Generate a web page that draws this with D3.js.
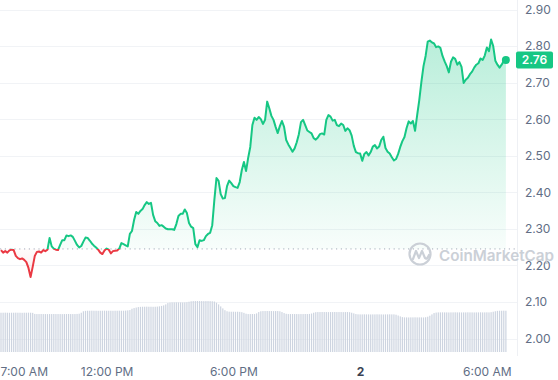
<!DOCTYPE html>
<html>
<head>
<meta charset="utf-8">
<script src="https://cdn.jsdelivr.net/npm/d3@7"></script>
<style>
  body { margin: 0; background: #fff; }
  svg { display: block; font-family: Inter, "Noto Sans", sans-serif; }
</style>
</head>
<body>
<svg id="chart" width="558" height="380"></svg>
<script>
// price every 6 minutes, from 7:00 AM on day 1
const price = [
  2.242, 2.235, 2.239, 2.235, 2.241, 2.243, 2.242, 2.226, 2.220, 2.217,
  2.219, 2.215, 2.209, 2.193, 2.168, 2.196, 2.226, 2.237, 2.238, 2.235,
  2.242, 2.239, 2.243, 2.275, 2.252, 2.246, 2.243, 2.242, 2.256, 2.269,
  2.269, 2.282, 2.280, 2.282, 2.278, 2.267, 2.256, 2.249, 2.253, 2.265,
  2.276, 2.275, 2.268, 2.260, 2.254, 2.249, 2.243, 2.235, 2.231, 2.241,
  2.246, 2.243, 2.233, 2.239, 2.240, 2.241, 2.246, 2.261, 2.258, 2.255,
  2.252, 2.286, 2.294, 2.324, 2.346, 2.341, 2.349, 2.354, 2.365, 2.373,
  2.368, 2.371, 2.338, 2.321, 2.316, 2.308, 2.310, 2.306, 2.301, 2.299,
  2.299, 2.299, 2.297, 2.313, 2.335, 2.341, 2.341, 2.353, 2.343, 2.316,
  2.306, 2.302, 2.258, 2.250, 2.269, 2.267, 2.269, 2.280, 2.286, 2.289,
  2.310, 2.379, 2.439, 2.431, 2.395, 2.383, 2.384, 2.417, 2.432, 2.425,
  2.417, 2.414, 2.412, 2.428, 2.461, 2.483, 2.458, 2.494, 2.524, 2.584,
  2.604, 2.598, 2.606, 2.600, 2.587, 2.598, 2.648, 2.630, 2.609, 2.598,
  2.579, 2.562, 2.581, 2.595, 2.579, 2.543, 2.531, 2.521, 2.511, 2.520,
  2.537, 2.559, 2.592, 2.598, 2.584, 2.569, 2.565, 2.561, 2.548, 2.544,
  2.550, 2.559, 2.561, 2.558, 2.598, 2.611, 2.607, 2.596, 2.598, 2.584,
  2.581, 2.588, 2.584, 2.568, 2.575, 2.570, 2.555, 2.527, 2.510, 2.507,
  2.506, 2.486, 2.505, 2.510, 2.501, 2.510, 2.525, 2.529, 2.520, 2.525,
  2.543, 2.552, 2.521, 2.511, 2.506, 2.496, 2.487, 2.491, 2.505, 2.524,
  2.540, 2.551, 2.576, 2.594, 2.588, 2.595, 2.568, 2.611, 2.652, 2.702,
  2.745, 2.773, 2.812, 2.815, 2.810, 2.807, 2.797, 2.799, 2.795, 2.773,
  2.758, 2.745, 2.728, 2.757, 2.769, 2.765, 2.749, 2.756, 2.743, 2.699,
  2.708, 2.713, 2.723, 2.730, 2.741, 2.749, 2.753, 2.766, 2.762, 2.774,
  2.796, 2.786, 2.818, 2.800, 2.760, 2.749, 2.741, 2.749, 2.760, 2.762
];

// volume (millions), same 6 minute steps
const volume = [
  590, 590, 591, 590, 589, 590, 590, 591, 590, 590, 589, 590, 590, 591, 590, 588,
  572, 570, 570, 571, 570, 570, 569, 570, 570, 571, 570, 570, 570, 569, 570, 570,
  571, 570, 570, 570, 572, 575, 590,
  612, 618, 620, 620, 621, 620, 620, 619, 620, 620, 621, 620, 620, 620, 619, 620,
  620, 621, 620, 620, 622, 625, 630,
  650, 660, 668, 675, 678, 680, 680, 681, 680, 680, 679, 680, 682, 686, 692, 700, 715,
  735, 742, 745, 745, 746, 745, 745, 744, 745, 748, 755,
  762, 765, 765, 766, 765, 765, 764, 765, 765, 764, 762, 758,
  740, 715, 685, 655, 628,
  612, 606, 605, 605, 604, 605, 603, 598, 588,
  575, 570, 570, 571, 570, 580,
  600, 612, 615, 615, 616, 615, 615, 614, 615, 615, 612, 600, 585,
  574, 570, 570, 571, 570, 570, 569, 570, 570, 571, 570, 572, 578, 590,
  598, 600, 600, 601, 600, 600, 599, 600, 600, 601, 600, 600, 600, 599, 600, 600,
  598, 590, 580, 570,
  566, 565, 565, 566, 565, 565, 564, 565, 565, 566, 565, 565, 564, 565, 565, 566,
  565, 565, 560, 548, 535,
  524, 520, 520, 519, 520, 520, 521, 520, 520, 520, 519, 522, 530, 545, 565,
  585, 592, 595, 595, 596, 595, 595, 594, 595, 595, 596, 595, 595, 594, 595, 595,
  596, 595, 595, 594, 595, 595, 596, 595, 595, 596, 595, 598, 605, 612,
  618, 620, 620, 621, 620
];

const yTicks = [2.00, 2.10, 2.20, 2.30, 2.40, 2.50, 2.60, 2.70, 2.80, 2.90];
const xTickLabels = ["7:00 AM", "12:00 PM", "6:00 PM", "2", "6:00 AM"];
const xTickOffsetsH = [0, 5, 11, 17, 23];   // hours after start

const startTime = new Date(2024, 2, 1, 7, 0);
const stepMinutes = 6;
const openPrice = 2.245;
const lastPriceLabel = "2.76";

const green = "#16c784", red = "#ea3943";
const plotRight = 517, plotBottom = 352;

const svg = d3.select("#chart");

const x = d3.scaleTime()
    .domain([startTime, d3.timeHour.offset(startTime, 24)])
    .range([1, 508]);
const y = d3.scaleLinear().domain([2.0, 2.9]).range([338.5, 9.5]);
const yVol = d3.scaleLinear().domain([0, d3.max(volume)]).range([plotBottom, 301]);

const data = price.map((p, i) => ({
    t: d3.timeMinute.offset(startTime, i * stepMinutes),
    p: p,
    v: volume[i]
}));

const defs = svg.append("defs");
const baseY = y(openPrice);

defs.append("clipPath").attr("id", "clip-up")
  .append("rect").attr("x", 0).attr("y", 0).attr("width", plotRight).attr("height", baseY);
defs.append("clipPath").attr("id", "clip-down")
  .append("rect").attr("x", 0).attr("y", baseY).attr("width", plotRight).attr("height", plotBottom - baseY);

const gUp = defs.append("linearGradient").attr("id", "grad-up")
    .attr("gradientUnits", "userSpaceOnUse")
    .attr("x1", 0).attr("x2", 0).attr("y1", 40).attr("y2", baseY);
gUp.append("stop").attr("offset", 0).attr("stop-color", green).attr("stop-opacity", 0.3);
gUp.append("stop").attr("offset", 1).attr("stop-color", green).attr("stop-opacity", 0.03);

const gDown = defs.append("linearGradient").attr("id", "grad-down")
    .attr("gradientUnits", "userSpaceOnUse")
    .attr("x1", 0).attr("x2", 0).attr("y1", baseY).attr("y2", 285);
gDown.append("stop").attr("offset", 0).attr("stop-color", red).attr("stop-opacity", 0.02);
gDown.append("stop").attr("offset", 1).attr("stop-color", red).attr("stop-opacity", 0.12);

// grid
svg.append("g").selectAll("line")
  .data(yTicks)
  .join("line")
    .attr("x1", 0).attr("x2", plotRight)
    .attr("y1", d => Math.round(y(d)) + 0.5).attr("y2", d => Math.round(y(d)) + 0.5)
    .attr("stroke", "#f1f3f6");

svg.append("line")
    .attr("x1", plotRight + 0.5).attr("x2", plotRight + 0.5)
    .attr("y1", 0).attr("y2", plotBottom + 4)
    .attr("stroke", "#eef0f4");

// volume bars
svg.append("g").selectAll("rect")
  .data(data)
  .join("rect")
    .attr("x", d => x(d.t) - 0.6)
    .attr("width", 1.2)
    .attr("y", d => yVol(d.v))
    .attr("height", d => plotBottom - yVol(d.v))
    .attr("fill", "#cdd4e0");

// open price dotted line
svg.append("line")
    .attr("x1", 0).attr("x2", plotRight)
    .attr("y1", baseY).attr("y2", baseY)
    .attr("stroke", "#a6acba")
    .attr("stroke-width", 1)
    .attr("stroke-dasharray", "1.2 3.6");

const area = d3.area()
    .x(d => x(d.t))
    .y0(baseY)
    .y1(d => y(d.p));
const line = d3.line()
    .x(d => x(d.t))
    .y(d => y(d.p));

svg.append("path").datum(data)
    .attr("d", area).attr("fill", "url(#grad-up)").attr("clip-path", "url(#clip-up)");
svg.append("path").datum(data)
    .attr("d", area).attr("fill", "url(#grad-down)").attr("clip-path", "url(#clip-down)");

svg.append("path").datum(data)
    .attr("d", line).attr("fill", "none").attr("stroke", green)
    .attr("stroke-width", 2).attr("stroke-linejoin", "round")
    .attr("clip-path", "url(#clip-up)");
svg.append("path").datum(data)
    .attr("d", line).attr("fill", "none").attr("stroke", red)
    .attr("stroke-width", 2).attr("stroke-linejoin", "round")
    .attr("clip-path", "url(#clip-down)");

const last = data[data.length - 1];
svg.append("circle")
    .attr("cx", x(last.t)).attr("cy", y(last.p)).attr("r", 4)
    .attr("fill", green);

// y axis labels
const yAxis = svg.append("g")
    .attr("transform", `translate(${plotRight + 8},0)`)
    .call(d3.axisRight(y).tickValues(yTicks).tickSize(0).tickPadding(0).tickFormat(d3.format(".2f")));
yAxis.select(".domain").remove();
yAxis.selectAll("text")
    .attr("fill", "#616e85")
    .attr("font-size", 12)
    .attr("font-family", "Inter, sans-serif");

// last price badge
const by = y(last.p);
svg.append("rect")
    .attr("x", plotRight - 1).attr("y", by - 8.5)
    .attr("width", 37).attr("height", 17).attr("rx", 2)
    .attr("fill", green);
svg.append("text")
    .attr("x", plotRight + 17.5).attr("y", by + 4.3)
    .attr("text-anchor", "middle")
    .attr("fill", "#fff")
    .attr("font-size", 12)
    .attr("font-weight", 600)
    .text(lastPriceLabel);

// x axis labels
const xTickTimes = xTickOffsetsH.map(h => d3.timeHour.offset(startTime, h));
const xAxis = svg.append("g")
    .attr("transform", `translate(0,${plotBottom + 8})`)
    .call(d3.axisBottom(x).tickValues(xTickTimes).tickSize(0).tickPadding(7)
        .tickFormat((d, i) => xTickLabels[i]));
xAxis.select(".domain").remove();
xAxis.selectAll("text")
    .attr("fill", "#616e85")
    .attr("font-size", 12)
    .attr("font-family", "Inter, sans-serif")
    .attr("text-anchor", (d, i) => i === 0 ? "start" : "middle")
    .attr("dx", (d, i) => i === 0 ? -1 : 0)
    .attr("font-weight", (d, i) => xTickLabels[i] === "2" ? 700 : 400)
    .attr("fill", (d, i) => xTickLabels[i] === "2" ? "#3a4252" : "#616e85");

// watermark
const wm = svg.append("g").attr("opacity", 0.9);
wm.append("circle")
    .attr("cx", 420).attr("cy", 254).attr("r", 10.5)
    .attr("fill", "none").attr("stroke", "#c6cbd3").attr("stroke-width", 2.2);
wm.append("path")
    .attr("d", "M413,259 L416,251 L419,258 L422,251 L425,258 Q427,260 429,255")
    .attr("fill", "none").attr("stroke", "#c6cbd3").attr("stroke-width", 2.2)
    .attr("stroke-linejoin", "round").attr("stroke-linecap", "round");
wm.append("text")
    .attr("x", 439).attr("y", 260.5)
    .attr("fill", "#c6cbd3")
    .attr("font-size", 15)
    .attr("font-weight", 600)
    .attr("textLength", 115)
    .attr("lengthAdjust", "spacingAndGlyphs")
    .text("CoinMarketCap");
</script>
</body>
</html>
